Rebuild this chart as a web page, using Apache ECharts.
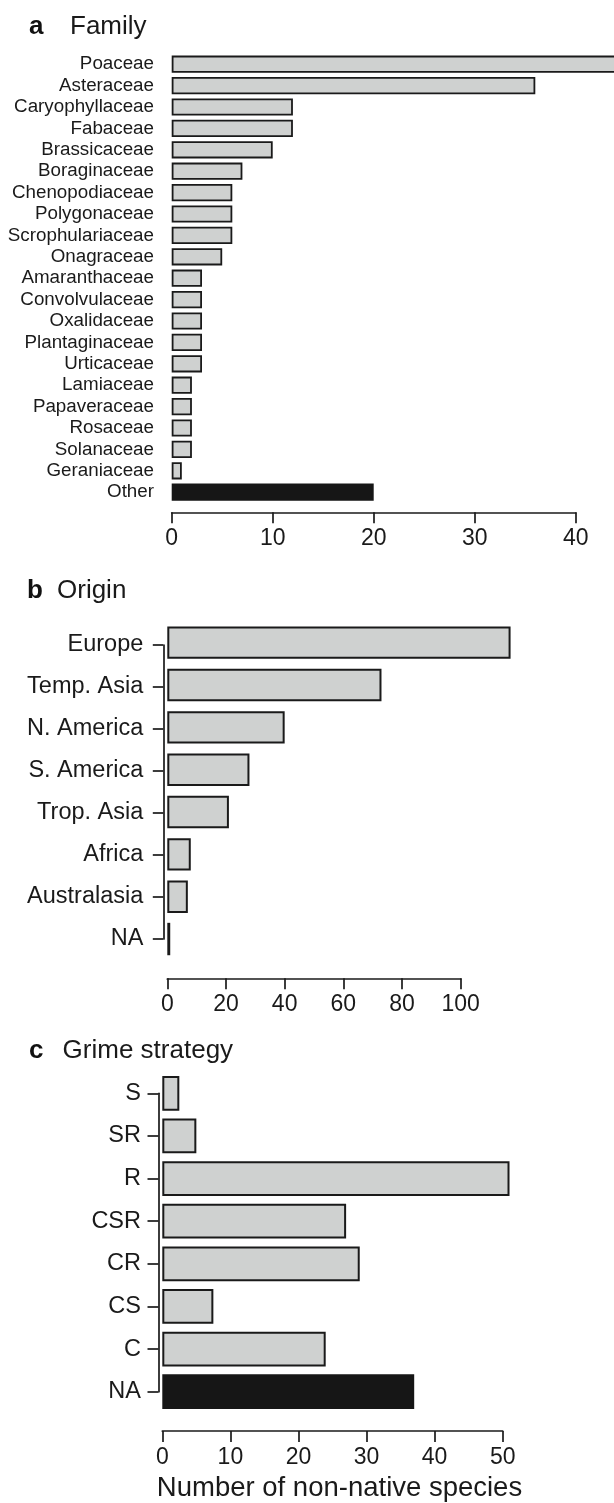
<!DOCTYPE html>
<html>
<head>
<meta charset="utf-8">
<script src="https://cdn.jsdelivr.net/npm/echarts@6/dist/echarts.min.js"></script>
<style>
html,body{margin:0;padding:0;background:#fff;}
#chart{width:614px;height:1503px;}
</style>
</head>
<body>
<div id="chart"></div>
<script>
// ---- data ----
const familyCats = ['Poaceae','Asteraceae','Caryophyllaceae','Fabaceae','Brassicaceae','Boraginaceae','Chenopodiaceae','Polygonaceae','Scrophulariaceae','Onagraceae','Amaranthaceae','Convolvulaceae','Oxalidaceae','Plantaginaceae','Urticaceae','Lamiaceae','Papaveraceae','Rosaceae','Solanaceae','Geraniaceae','Other'];
const familyVals = [46,36,12,12,10,7,6,6,6,5,3,3,3,3,3,2,2,2,2,1,20];
const familyTicks = [0,10,20,30,40];

const originCats = ['Europe','Temp. Asia','N. America','S. America','Trop. Asia','Africa','Australasia','NA'];
const originVals = [117,73,40,28,21,8,7,1];
const originTicks = [0,20,40,60,80,100];

const grimeCats = ['S','SR','R','CSR','CR','CS','C','NA'];
const grimeVals = [2.5,5,51,27,29,7.5,24,37];
const grimeTicks = [0,10,20,30,40,50];

const panelTitles = [['a','Family'],['b','Origin'],['c','Grime strategy']];
const xAxisTitle = 'Number of non-native species';

const darkFamily = 'Other';
const darkGrime = 'NA';

// ---- styles ----
const FONT = '"Liberation Sans", Arial, Helvetica, sans-serif';
const INK = '#1a1a1a';
const FILL = '#cfd1d0';
const DARK = '#161616';

function barData(cats, vals, darkName) {
  return vals.map((v, i) => cats[i] === darkName
    ? {value: v, itemStyle: {color: DARK, borderColor: DARK}}
    : v);
}

function valueAxis(gridIndex, ticks, offset, extra) {
  return Object.assign({
    type: 'value', gridIndex: gridIndex,
    min: ticks[0], max: ticks[ticks.length - 1], interval: ticks[1] - ticks[0],
    position: 'bottom', offset: offset,
    splitLine: {show: false},
    axisLine: {show: true, lineStyle: {color: INK, width: 1.7}},
    axisTick: {show: true, length: 11, lineStyle: {color: INK, width: 1.7}},
    axisLabel: {fontSize: 23, color: INK, fontFamily: FONT, margin: 15}
  }, extra || {});
}
function hiddenValueAxis(gridIndex) {
  return {type: 'value', gridIndex: gridIndex, show: false, min: 0, max: 1};
}
function hiddenCatAxis(gridIndex, cats) {
  return {type: 'category', gridIndex: gridIndex, data: cats, inverse: true, show: false};
}
function tickCatAxis(gridIndex, cats, tickLen, margin) {
  return {
    type: 'category', gridIndex: gridIndex, data: cats, inverse: true,
    boundaryGap: false,
    axisLine: {show: true, lineStyle: {color: INK, width: 1.7}},
    axisTick: {show: true, length: tickLen, alignWithLabel: true, lineStyle: {color: INK, width: 1.7}},
    axisLabel: {interval: 0, fontSize: 23.5, color: INK, fontFamily: FONT, margin: margin},
    splitLine: {show: false}
  };
}
function barSeries(axisIndex, data, barWidth, borderWidth) {
  return {
    type: 'bar', xAxisIndex: axisIndex, yAxisIndex: axisIndex,
    data: data, barWidth: barWidth, clip: false, silent: true, animation: false,
    itemStyle: {color: FILL, borderColor: INK, borderWidth: borderWidth}
  };
}

function titleEls(idx, baseY, xLetter, xText, fs) {
  const y = baseY - 0.35 * fs;
  return [
    {type: 'text', x: xLetter, y: y, style: {text: panelTitles[idx][0], font: 'bold ' + fs + 'px ' + FONT, fill: '#111', align: 'left', verticalAlign: 'middle'}},
    {type: 'text', x: xText, y: y, style: {text: panelTitles[idx][1], font: fs + 'px ' + FONT, fill: INK, align: 'left', verticalAlign: 'middle'}}
  ];
}

const chart = echarts.init(document.getElementById('chart'), null, {renderer: 'canvas'});

const option = {
  backgroundColor: '#ffffff',
  animation: false,
  textStyle: {fontFamily: FONT},
  grid: [
    // panel a: bars + axes
    {left: 171.7, top: 53.5, width: 404, height: 449.4},
    // panel b: bars
    {left: 167.3, top: 621.5, width: 293.4, height: 338.7},
    // panel b: category tick axis
    {left: 163.3, top: 645, width: 10, height: 294},
    // panel c: bars
    {left: 162.3, top: 1072, width: 340.4, height: 341},
    // panel c: category tick axis
    {left: 158.5, top: 1093.3, width: 10, height: 298.4}
  ],
  xAxis: [
    valueAxis(0, familyTicks, 9.4),
    valueAxis(1, originTicks, 18.1),
    hiddenValueAxis(2),
    valueAxis(3, grimeTicks, 18, {
      name: xAxisTitle, nameLocation: 'middle', nameGap: 43,
      nameTextStyle: {fontSize: 27.5, color: INK, fontFamily: FONT, padding: [0, 0, 0, 14]}
    }),
    hiddenValueAxis(4)
  ],
  yAxis: [
    {
      type: 'category', gridIndex: 0, data: familyCats, inverse: true,
      axisLine: {show: false}, axisTick: {show: false},
      axisLabel: {interval: 0, fontSize: 18.8, color: INK, fontFamily: FONT, margin: 17.7},
      splitLine: {show: false}
    },
    hiddenCatAxis(1, originCats),
    tickCatAxis(2, originCats, 10.5, 20),
    hiddenCatAxis(3, grimeCats),
    tickCatAxis(4, grimeCats, 11, 17.5)
  ],
  series: [
    barSeries(0, barData(familyCats, familyVals, darkFamily), 17.2, 1.8),
    barSeries(1, barData(originCats, originVals, null), 32.4, 2),
    barSeries(3, barData(grimeCats, grimeVals, darkGrime), 34.7, 2)
  ],
  graphic: {elements: [].concat(
    titleEls(0, 36, 29, 70, 26),
    titleEls(1, 600, 27, 57, 26),
    titleEls(2, 1060, 29, 62.6, 26)
  )}
};
chart.setOption(option);
</script>
</body>
</html>
